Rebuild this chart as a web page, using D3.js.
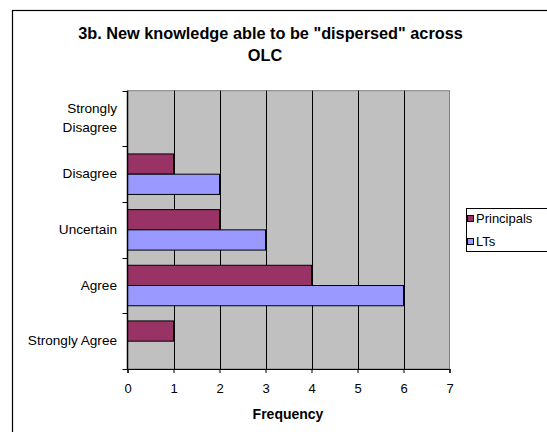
<!DOCTYPE html>
<html>
<head>
<meta charset="utf-8">
<script src="https://cdn.jsdelivr.net/npm/d3@7/dist/d3.min.js"></script>
<style>
  html, body { margin: 0; padding: 0; background: #ffffff; }
  svg { display: block; font-family: "Liberation Sans", Arial, sans-serif; }
</style>
</head>
<body>
<svg id="chart" width="547" height="432"></svg>
<script>
// Survey responses, top to bottom as drawn
const categories = ["Strongly Disagree", "Disagree", "Uncertain", "Agree", "Strongly Agree"];
const seriesNames = ["Principals", "LTs"];
const principals = [0, 1, 2, 4, 1];
const lts = [0, 2, 3, 6, 0];
const xTicks = [0, 1, 2, 3, 4, 5, 6, 7];
const colors = ["#993366", "#9999FF"];

const svg = d3.select("#chart");

// outer chart frame
svg.append("rect")
  .attr("x", 12.5).attr("y", 10.5)
  .attr("width", 600).attr("height", 500)
  .attr("fill", "#ffffff").attr("stroke", "#000").attr("stroke-width", 1.2);

const plot = { left: 127.5, right: 449.5, top: 90.7, bottom: 369 };

const x = d3.scaleLinear().domain([0, 7]).range([plot.left, plot.right]);
const y = d3.scaleBand().domain(categories).range([plot.top, plot.bottom]).paddingInner(0).paddingOuter(0);
const inner = d3.scaleBand().domain(seriesNames).range([0, y.bandwidth()]).paddingInner(0).paddingOuter(0.375);

// plot area background
svg.append("rect")
  .attr("x", plot.left).attr("y", plot.top)
  .attr("width", plot.right - plot.left).attr("height", plot.bottom - plot.top)
  .attr("fill", "#C0C0C0").attr("stroke", "#808080").attr("stroke-width", 1);

// vertical gridlines
svg.append("g").selectAll("line")
  .data(xTicks.slice(1, -1))
  .join("line")
  .attr("x1", d => Math.round(x(d)) + 0.5).attr("x2", d => Math.round(x(d)) + 0.5)
  .attr("y1", plot.top).attr("y2", plot.bottom)
  .attr("stroke", "#000").attr("stroke-width", 1);

// bars
const rows = categories.map((c, i) => ({ cat: c, values: [principals[i], lts[i]] }));
const groups = svg.append("g").selectAll("g")
  .data(rows)
  .join("g")
  .attr("transform", d => `translate(0,${y(d.cat)})`);

groups.selectAll("rect")
  .data(d => d.values.map((v, j) => ({ name: seriesNames[j], value: v, color: colors[j] })).filter(d => d.value > 0))
  .join("rect")
  .attr("x", x(0))
  .attr("y", d => inner(d.name))
  .attr("width", d => x(d.value) - x(0))
  .attr("height", inner.bandwidth())
  .attr("fill", d => d.color)
  .attr("stroke", "#000").attr("stroke-width", 1);

// x axis
const xAxis = d3.axisBottom(x).tickValues(xTicks).tickSize(4).tickPadding(11).tickFormat(d3.format("d"));
const gx = svg.append("g").attr("transform", `translate(0,${plot.bottom})`).call(xAxis);
gx.select(".domain").attr("stroke", "#000").attr("stroke-width", 1.2);
gx.selectAll(".tick line").attr("stroke", "#000");
gx.selectAll("text").attr("font-size", 13).attr("fill", "#000")
  .attr("font-family", "Liberation Sans, Arial, sans-serif");

// y axis (category boundaries ticks)
const boundaries = categories.map(c => y(c)).concat([plot.bottom]);
svg.append("line")
  .attr("x1", plot.left).attr("x2", plot.left)
  .attr("y1", plot.top).attr("y2", plot.bottom)
  .attr("stroke", "#000").attr("stroke-width", 1.5);
svg.append("g").selectAll("line")
  .data(boundaries)
  .join("line")
  .attr("x1", plot.left - 5).attr("x2", plot.left)
  .attr("y1", d => Math.round(d) + 0.5).attr("y2", d => Math.round(d) + 0.5)
  .attr("stroke", "#000");

// category labels
const labelLines = { "Strongly Disagree": ["Strongly", "Disagree"] };
const catLabels = svg.append("g").attr("font-size", 13.6).attr("text-anchor", "end").attr("fill", "#000");
categories.forEach(c => {
  const cy = y(c) + y.bandwidth() / 2;
  const lines = labelLines[c] || [c];
  const t = catLabels.append("text").attr("x", 117).attr("y", cy + 4 - (lines.length - 1) * 9.3);
  lines.forEach((ln, k) => {
    t.append("tspan").attr("x", 117).attr("dy", k === 0 ? 0 : 18.6).text(ln);
  });
});

// title
const title = svg.append("text")
  .attr("text-anchor", "middle").attr("font-size", 16.3).attr("font-weight", "bold").attr("fill", "#000");
title.append("tspan").attr("x", 270.5).attr("y", 38.5).text('3b. New knowledge able to be "dispersed" across');
title.append("tspan").attr("x", 265).attr("y", 61).text("OLC");

// axis title
svg.append("text")
  .attr("x", 288).attr("y", 419)
  .attr("text-anchor", "middle").attr("font-size", 14).attr("font-weight", "bold")
  .text("Frequency");

// legend
const legend = svg.append("g");
legend.append("rect")
  .attr("x", 466.5).attr("y", 208.5).attr("width", 100).attr("height", 43)
  .attr("fill", "#fff").attr("stroke", "#000").attr("stroke-width", 1);
seriesNames.forEach((n, i) => {
  const ly = 218.5 + i * 23;
  legend.append("rect")
    .attr("x", 467.5).attr("y", ly - 3).attr("width", 6).attr("height", 6)
    .attr("fill", colors[i]).attr("stroke", "#000");
  legend.append("text")
    .attr("x", 476).attr("y", ly + 4.5).attr("font-size", 13).text(n);
});
</script>
</body>
</html>
